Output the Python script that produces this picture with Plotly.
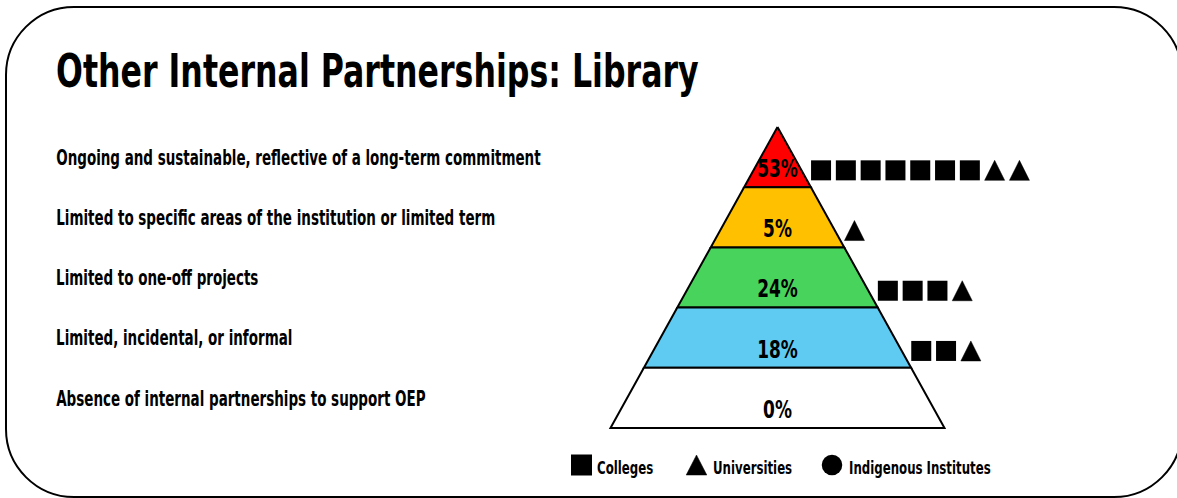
import plotly.graph_objects as go

# ---------------- data ----------------
categories = [
    "Ongoing and sustainable, reflective of a long-term commitment",
    "Limited to specific areas of the institution or limited term",
    "Limited to one-off projects",
    "Limited, incidental, or informal",
    "Absence of internal partnerships to support OEP",
]
percentages = [53, 5, 24, 18, 0]
colleges = [7, 0, 3, 2, 0]
universities = [2, 1, 1, 1, 0]
indigenous = [0, 0, 0, 0, 0]
level_colors = ["#FF0000", "#FFC000", "#48D45C", "#5FCBF3", "#FFFFFF"]
legend_labels = ["Colleges", "Universities", "Indigenous Institutes"]
title_text = "Other Internal Partnerships: Library"

# ---------------- layout constants (pixels) ----------------
W, H = 1177, 498
FONT = "DejaVu Sans Condensed, DejaVu Sans, sans-serif"
TITLE_SIZE, LABEL_SIZE, PCT_SIZE, LEG_SIZE = 47, 20.5, 24.5, 17
apex_x, apex_y = 777.5, 127.0
level_h = 60.2
n = len(categories)
base_half = 167.0
mark_gap, mark_pitch, mark_sz = 19.5, 24.8, 20


def half_w(y):
    return base_half * (y - apex_y) / (n * level_h)


fig = go.Figure()

# pyramid levels
for i, col in enumerate(level_colors):
    top = apex_y + i * level_h
    bot = top + level_h
    ht, hb = half_w(top), half_w(bot)
    fig.add_trace(go.Scatter(
        x=[apex_x - ht, apex_x + ht, apex_x + hb, apex_x - hb, apex_x - ht],
        y=[top, top, bot, bot, top],
        mode="lines", fill="toself", fillcolor=col,
        line=dict(color="black", width=2), hoverinfo="skip", showlegend=False))

# percentage labels
fig.add_trace(go.Scatter(
    x=[apex_x] * n,
    y=[apex_y + (i + 0.73) * level_h for i in range(n)],
    mode="text", text=[f"{p}%" for p in percentages],
    textfont=dict(family=FONT, size=PCT_SIZE, color="black", weight=700),
    textposition="middle center", hoverinfo="skip", showlegend=False))

# institution markers
sq_x, sq_y, tri_x, tri_y, ci_x, ci_y = [], [], [], [], [], []
for i in range(n):
    y = apex_y + (i + 0.72) * level_h
    x0 = apex_x + half_w(y) + mark_gap
    k = 0
    for _ in range(colleges[i]):
        sq_x.append(x0 + k * mark_pitch); sq_y.append(y); k += 1
    for _ in range(universities[i]):
        cx = x0 + k * mark_pitch
        tri_x += [cx - mark_sz / 2, cx + mark_sz / 2, cx, cx - mark_sz / 2, None]
        tri_y += [y + mark_sz / 2, y + mark_sz / 2, y - mark_sz / 2, y + mark_sz / 2, None]
        k += 1
    for _ in range(indigenous[i]):
        ci_x.append(x0 + k * mark_pitch); ci_y.append(y); k += 1

fig.add_trace(go.Scatter(x=sq_x, y=sq_y, mode="markers",
                         marker=dict(symbol="square", size=mark_sz, color="black", line=dict(width=0)),
                         hoverinfo="skip", showlegend=False))
fig.add_trace(go.Scatter(x=tri_x, y=tri_y, mode="lines", fill="toself", fillcolor="black",
                         line=dict(color="black", width=0.5), hoverinfo="skip", showlegend=False))
fig.add_trace(go.Scatter(x=ci_x, y=ci_y, mode="markers",
                         marker=dict(symbol="circle", size=mark_sz, color="black"),
                         hoverinfo="skip", showlegend=False))

# category labels (left)
for i, c in enumerate(categories):
    fig.add_annotation(x=54, y=apex_y + (i + 0.51) * level_h, text=c, showarrow=False,
                       xanchor="left", yanchor="middle",
                       font=dict(family=FONT, size=LABEL_SIZE, color="black", weight=700))

# title
fig.add_annotation(x=54, y=70.5, text=title_text, showarrow=False, xanchor="left", yanchor="middle",
                   font=dict(family=FONT, size=TITLE_SIZE, color="black", weight=700))

# custom legend
leg_y = 465
leg_sym_x = [581.5, 696.5, 832]
leg_txt_x = [594.5, 711, 847]
fig.add_trace(go.Scatter(x=[leg_sym_x[0]], y=[leg_y], mode="markers",
                         marker=dict(symbol="square", size=21, color="black", line=dict(width=0)),
                         hoverinfo="skip", showlegend=False))
tx = leg_sym_x[1]
fig.add_trace(go.Scatter(x=[tx - 10.3, tx + 10.3, tx, tx - 10.3], y=[leg_y + 10, leg_y + 10, leg_y - 10, leg_y + 10],
                         mode="lines", fill="toself", fillcolor="black", line=dict(color="black", width=0.5),
                         hoverinfo="skip", showlegend=False))
fig.add_trace(go.Scatter(x=[leg_sym_x[2]], y=[leg_y], mode="markers",
                         marker=dict(symbol="circle", size=20.5, color="black", line=dict(width=0)),
                         hoverinfo="skip", showlegend=False))
for lx, lt in zip(leg_txt_x, legend_labels):
    fig.add_annotation(x=lx, y=leg_y + 2.5, text=lt, showarrow=False, xanchor="left", yanchor="middle",
                       font=dict(family=FONT, size=LEG_SIZE, color="black", weight=700))

# rounded border
x0, y0, x1, y1, r = 6, 7, 1182, 497, 68
kk = 0.5523 * r
path = (f"M{x0 + r},{y0} H{x1 - r} C{x1 - r + kk},{y0} {x1},{y0 + r - kk} {x1},{y0 + r} "
        f"V{y1 - r} C{x1},{y1 - r + kk} {x1 - r + kk},{y1} {x1 - r},{y1} "
        f"H{x0 + r} C{x0 + r - kk},{y1} {x0},{y1 - r + kk} {x0},{y1 - r} "
        f"V{y0 + r} C{x0},{y0 + r - kk} {x0 + r - kk},{y0} {x0 + r},{y0} Z")
fig.add_shape(type="path", path=path, xref="x", yref="y", line=dict(color="black", width=2),
              fillcolor="rgba(0,0,0,0)", layer="below")

fig.update_layout(
    width=W, height=H, margin=dict(l=0, r=0, t=0, b=0),
    paper_bgcolor="white", plot_bgcolor="white", hovermode=False,
    xaxis=dict(range=[0, W], visible=False, fixedrange=True),
    yaxis=dict(range=[H, 0], visible=False, fixedrange=True),
)

# narrow the text horizontally (condensed look) keeping it real text
post = """
document.body.style.margin = '0';
var gd = document.getElementById('{plot_id}');
var scales = {'%s': %s, '%s': %s, '%s': %s, '%s': %s};
gd.querySelectorAll('text').forEach(function (t) {
  var fs = parseFloat(t.style.fontSize);
  var s = scales[String(fs)];
  if (!s) return;
  var bb = t.getBBox();
  var centered = t.closest('.textpoint') !== null;
  var x0 = centered ? bb.x + bb.width / 2 : bb.x;
  var prev = t.getAttribute('transform') || '';
  t.setAttribute('transform', prev + ' translate(' + (x0 * (1 - s)) + ',0) scale(' + s + ',1)');
});
""" % (TITLE_SIZE, 0.748, LABEL_SIZE, 0.731, PCT_SIZE, 0.77, LEG_SIZE, 0.77)

fig.write_html("out.html", post_script=post, config={"displayModeBar": False})
